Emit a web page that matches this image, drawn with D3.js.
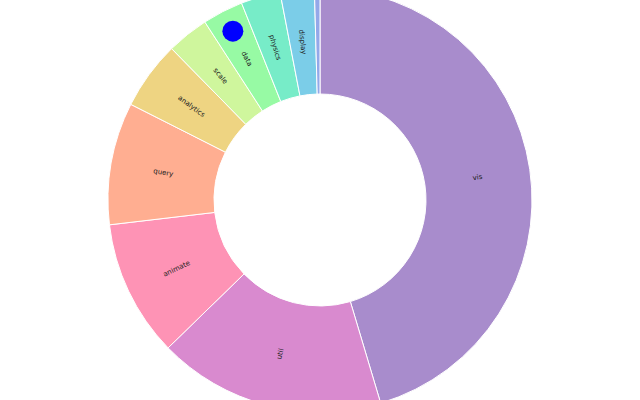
<!DOCTYPE html>
<html>
<head>
<meta charset="utf-8">
<script src="https://cdn.jsdelivr.net/npm/d3@7"></script>
<style>
  html, body { margin: 0; padding: 0; background: #fff; }
  svg { display: block; }
</style>
</head>
<body>
<svg id="chart" width="640" height="400"></svg>
<script>
// slice names and sizes (share of total)
const categories = ['vis', 'util', 'animate', 'query', 'analytics', 'scale', 'data', 'physics', 'display', 'flex'];
const values = [45.3, 17.3, 10.4, 9.3, 5.2, 3.2, 3.1, 3.0, 2.6, 0.42];
// the slice that carries the blue marker
const markedCategory = 'data';

const width = 640;
const height = 400;
const outerRadius = 212;
const innerRadius = 106;

const svg = d3.select('#chart');
const g = svg.append('g').attr('transform', `translate(${width / 2}, ${height / 2})`);

const data = categories.map((name, i) => ({ name, value: values[i] }));

const color = d3.scaleOrdinal()
  .domain(categories)
  .range(d3.quantize(d3.interpolateRainbow, categories.length + 1));

const pie = d3.pie().sort(null).value((d) => d.value);
const arc = d3.arc().innerRadius(innerRadius).outerRadius(outerRadius);
const arcs = pie(data);

g.selectAll('path.slice')
  .data(arcs)
  .enter()
  .append('path')
  .attr('class', 'slice')
  .attr('d', arc)
  .attr('fill', (d) => color(d.data.name))
  .attr('fill-opacity', 0.6)
  .attr('stroke', '#fff')
  .attr('stroke-width', 1);

const labelRadius = (innerRadius + outerRadius) / 2;

// too thin slices get no label
g.selectAll('text.label')
  .data(arcs.filter((d) => (d.endAngle - d.startAngle) * labelRadius > 8))
  .enter()
  .append('text')
  .attr('class', 'label')
  .attr('transform', (d) => {
    const a = ((d.startAngle + d.endAngle) / 2) * 180 / Math.PI;
    return `rotate(${a - 90}) translate(${labelRadius},0) rotate(${a < 180 ? 0 : 180})`;
  })
  .attr('dy', '0.35em')
  .attr('text-anchor', 'middle')
  .style('font-family', 'DejaVu Sans, sans-serif')
  .style('font-size', '7px')
  .attr('fill', '#222')
  .text((d) => d.data.name);

// blue marker sitting in the outer part of one slice
const markerArc = d3.arc().innerRadius(190).outerRadius(190);
g.selectAll('circle.marker')
  .data(arcs.filter((d) => d.data.name === markedCategory))
  .enter()
  .append('circle')
  .attr('class', 'marker')
  .attr('cx', (d) => markerArc.centroid(d)[0])
  .attr('cy', (d) => markerArc.centroid(d)[1])
  .attr('r', 10.5)
  .attr('fill', '#0000ff');
</script>
</body>
</html>
